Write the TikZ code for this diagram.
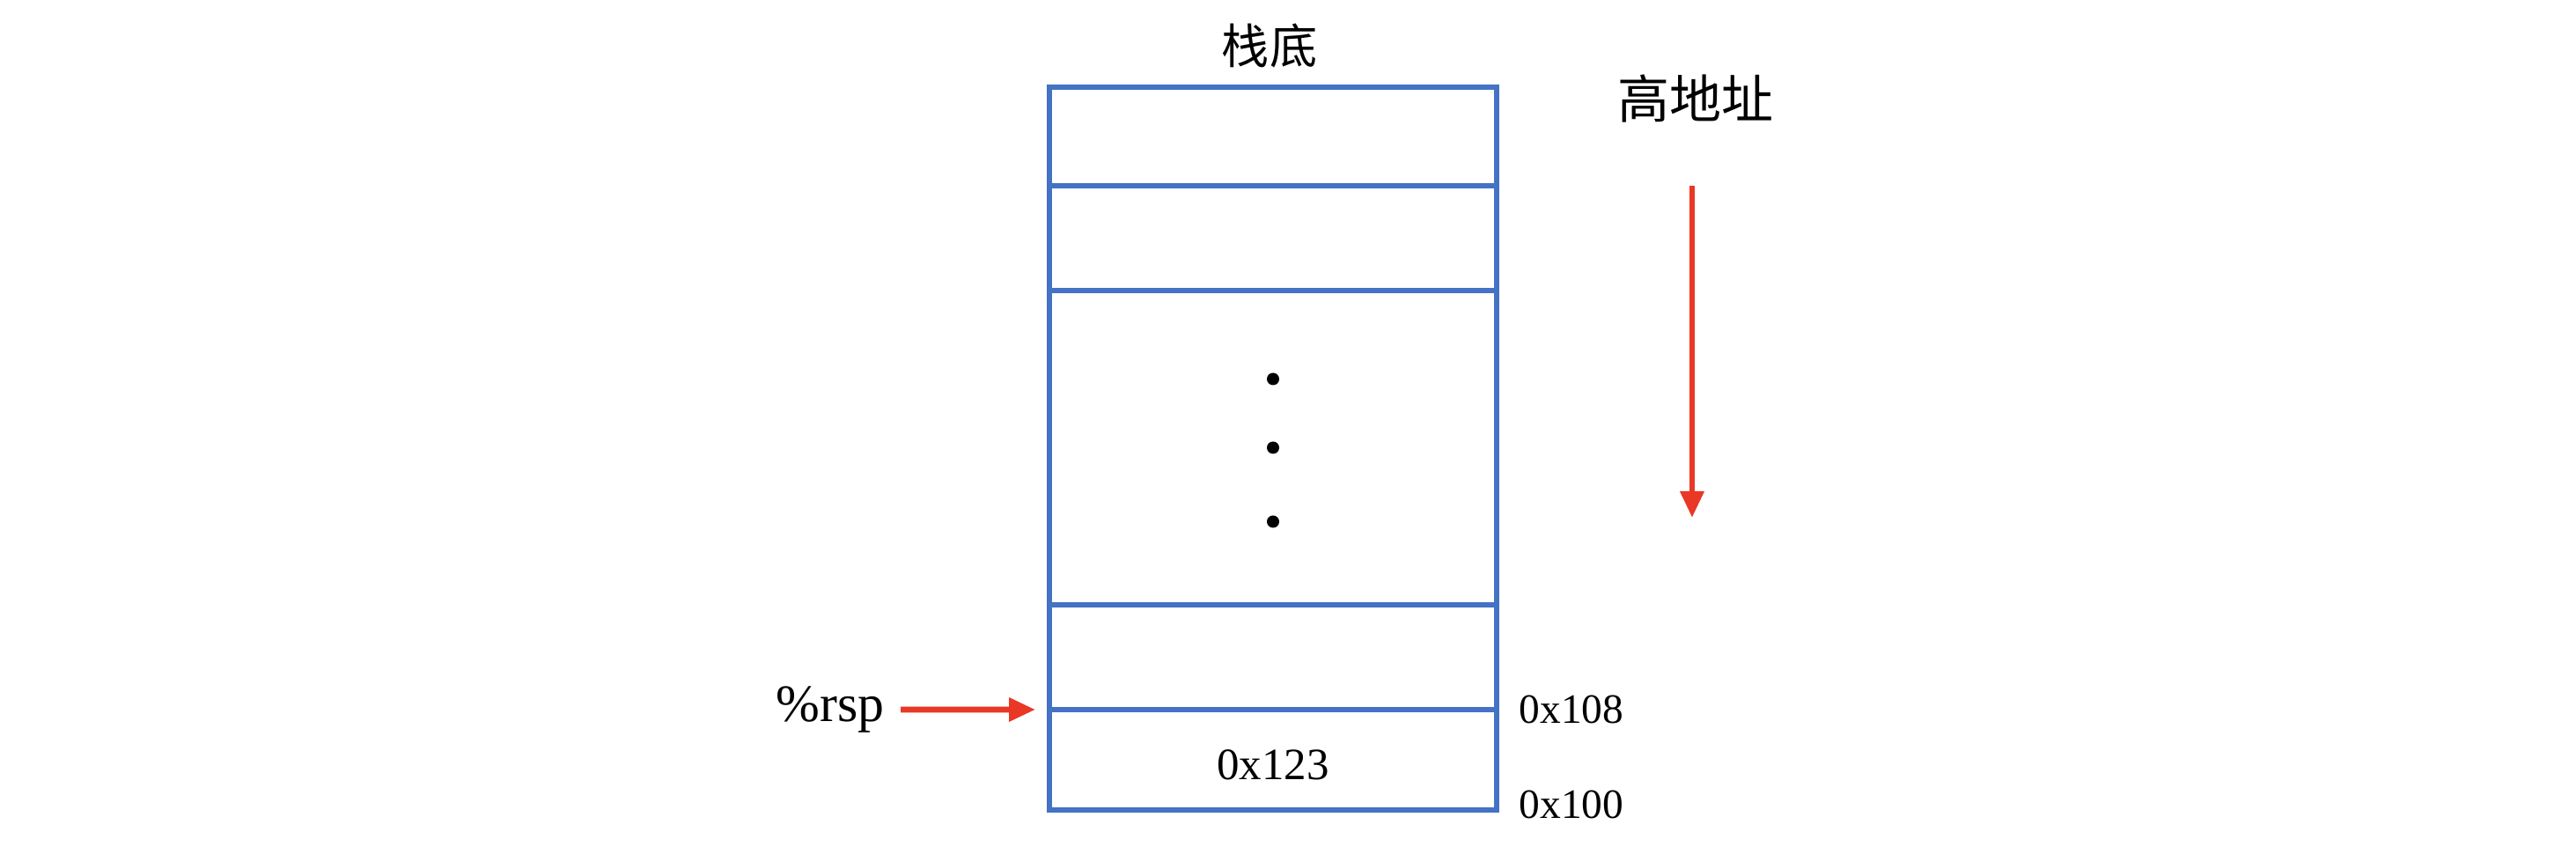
\documentclass[tikz,border=0pt]{standalone}
\usepackage{fontspec}
\setmainfont{Liberation Serif}
\newfontfamily\cjk{Noto Sans CJK SC}
\usepackage{tikz}
\usetikzlibrary{arrows.meta,positioning}
\definecolor{cellblue}{RGB}{68,114,196}
\definecolor{ptrred}{RGB}{233,56,38}

\begin{document}
\begin{tikzpicture}[
  cell/.style={draw=cellblue, line width=1.5pt, minimum width=5.08cm, inner sep=0pt, outer sep=0pt},
  ptr/.style={-{Triangle[length=0.3cm,width=0.26cm]}, ptrred, line width=1.9pt},
  addr/.style={font=\fontsize{13.5}{16}\selectfont, inner sep=0pt},
  tag/.style={font=\cjk\fontsize{15.4}{18}\selectfont, inner sep=0pt}
]
  \useasboundingbox (0,0) rectangle (29.26,9.70);
  % stack cells, top to bottom
  \node[cell, minimum height=1.12cm] (c1) at (14.46,8.15) {};
  \node[cell, minimum height=1.19cm, below=0 of c1] (c2) {};
  \node[cell, minimum height=3.57cm, below=0 of c2] (c3) {};
  \node[cell, minimum height=1.19cm, below=0 of c3] (c4) {};
  \node[cell, minimum height=1.14cm, below=0 of c4] (c5) {};
  \node[font=\fontsize{14.5}{17}\selectfont, inner sep=0pt] (val) at ([yshift=-0.06cm]c5.center) {0x123};
  \fill ([yshift=0.78cm]c3.center) circle (0.07);
  \fill (c3.center) circle (0.07);
  \fill ([yshift=-0.84cm]c3.center) circle (0.07);
  % labels
  \node[tag] (bottom) at (14.42,9.18) {栈底};
  \node[tag, font=\cjk\fontsize{16.8}{20}\selectfont] (high) at (19.26,8.58) {高地址};
  \coordinate (downtop) at (19.22,7.59);
  \coordinate (downend) at (19.22,3.82);
  \draw[ptr] (downtop) -- (downend);
  \node[font=\fontsize{17}{20}\selectfont, anchor=east, inner sep=0pt] (rsp) at (10.05,1.64) {\%rsp};
  \draw[ptr] ([xshift=0.18cm]rsp.east) -- ([xshift=-0.16cm]c5.north west);
  \node[addr, anchor=west, right=0.25cm of c5.north east] (a108) {0x108};
  \node[addr, anchor=west, right=0.25cm of c5.south east, yshift=0.06cm] (a100) {0x100};
\end{tikzpicture}
\end{document}
